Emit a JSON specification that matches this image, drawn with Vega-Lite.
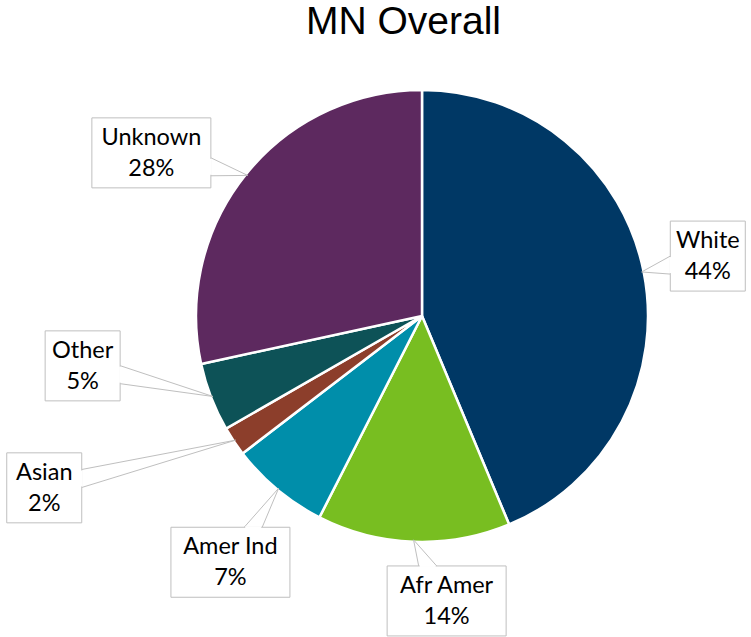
{
  "$schema": "https://vega.github.io/schema/vega-lite/v6.json",
  "width": 658,
  "height": 532,
  "autosize": {"type": "none"},
  "padding": {"left": 93, "top": 50, "right": 0, "bottom": 55},
  "background": "white",
  "title": {"text": "MN Overall", "font": "Liberation Sans", "fontSize": 39, "fontWeight": "normal", "color": "#000000", "anchor": "middle", "frame": "group", "dx": -18.5, "offset": -23, "baseline": "alphabetic"},
  "config": {"view": {"stroke": null}},
  "data": {"values": [
    {"race": "White", "pct": 43.7, "order": 1},
    {"race": "Afr Amer", "pct": 13.8, "order": 2},
    {"race": "Amer Ind", "pct": 7.1, "order": 3},
    {"race": "Asian", "pct": 2.1, "order": 4},
    {"race": "Other", "pct": 4.9, "order": 5},
    {"race": "Unknown", "pct": 28.4, "order": 6}
  ]},
  "transform": [
    {"window": [{"op": "sum", "field": "pct", "as": "cum"}], "sort": [{"field": "order"}], "frame": [null, 0]},
    {"calculate": "(datum.cum - datum.pct / 2) * 2 * PI / 100", "as": "mid"},
    {"calculate": "datum.race === 'White' ? -0.5 : datum.race === 'Afr Amer' ? -7.1 : datum.race === 'Amer Ind' ? -1.9 : datum.race === 'Asian' ? 9.2 : datum.race === 'Other' ? 12.7 : -7.8", "as": "nudge"},
    {"calculate": "datum.race === 'White' ? 292 : datum.race === 'Afr Amer' ? 286 : datum.race === 'Amer Ind' ? 312 : datum.race === 'Asian' ? 415 : datum.race === 'Other' ? 343 : 316", "as": "lr"},
    {"calculate": "datum.mid + datum.nudge * PI / 180", "as": "la"},
    {"calculate": "datum.lr * sin(datum.la)", "as": "lx"},
    {"calculate": "datum.lr * cos(datum.la)", "as": "ly"},
    {"calculate": "224 * sin(datum.mid)", "as": "tx"},
    {"calculate": "224 * cos(datum.mid)", "as": "ty"},
    {"calculate": "datum.race + '\\n' + format(datum.pct, '.0f') + '%'", "as": "lbl"},
    {"calculate": "(11 * length(replace(datum.race, regexp('[mwU]', 'g'), 'xx')) + 20) / 2", "as": "hw"},
    {"calculate": "35", "as": "hh"},
    {"calculate": "datum.lx - datum.hw", "as": "bx1"},
    {"calculate": "datum.lx + datum.hw", "as": "bx2"},
    {"calculate": "datum.ly - datum.hh", "as": "by1"},
    {"calculate": "datum.ly + datum.hh", "as": "by2"},
    {"calculate": "sqrt((datum.tx - datum.lx) * (datum.tx - datum.lx) + (datum.ty - datum.ly) * (datum.ty - datum.ly))", "as": "dd"},
    {"calculate": "(datum.tx - datum.lx) / datum.dd", "as": "ux"},
    {"calculate": "(datum.ty - datum.ly) / datum.dd", "as": "uy"},
    {"calculate": "abs(datum.ux) > 0.000001 ? datum.hw / abs(datum.ux) : 1e9", "as": "sv"},
    {"calculate": "abs(datum.uy) > 0.000001 ? datum.hh / abs(datum.uy) : 1e9", "as": "sh"},
    {"calculate": "datum.sv < datum.sh", "as": "vert"},
    {"calculate": "min(datum.sv, datum.sh)", "as": "de"},
    {"calculate": "datum.lx + datum.ux * datum.de", "as": "ex"},
    {"calculate": "datum.ly + datum.uy * datum.de", "as": "ey"},
    {"calculate": "datum.vert ? datum.ex : datum.ex - 9", "as": "a1x"},
    {"calculate": "datum.vert ? datum.ey - 9 : datum.ey", "as": "a1y"},
    {"calculate": "datum.vert ? datum.ex : datum.ex + 9", "as": "a2x"},
    {"calculate": "datum.vert ? datum.ey + 9 : datum.ey", "as": "a2y"},
    {"calculate": "datum.vert ? datum.ex : datum.ex - 8", "as": "b1x"},
    {"calculate": "datum.vert ? datum.ey - 8 : datum.ey", "as": "b1y"},
    {"calculate": "datum.vert ? datum.ex : datum.ex + 8", "as": "b2x"},
    {"calculate": "datum.vert ? datum.ey + 8 : datum.ey", "as": "b2y"}
  ],
  "layer": [
    {
      "mark": {"type": "arc", "radius": 226, "stroke": "white", "strokeWidth": 2.5},
      "encoding": {
        "theta": {"field": "pct", "type": "quantitative", "stack": true},
        "order": {"field": "order", "type": "quantitative", "sort": "ascending"},
        "color": {"field": "race", "type": "nominal", "legend": null,
          "scale": {"domain": ["White", "Afr Amer", "Amer Ind", "Asian", "Other", "Unknown"],
                    "range": ["#003865", "#78BE21", "#008EAA", "#8C3E2B", "#0D5257", "#5D295F"]}}
      }
    },
    {
      "mark": {"type": "rule", "stroke": "#BFBFBF", "strokeWidth": 1},
      "encoding": {
        "x": {"field": "tx", "type": "quantitative", "scale": {"domain": [-329, 329], "nice": false, "zero": false}, "axis": null},
        "y": {"field": "ty", "type": "quantitative", "scale": {"domain": [-266, 266], "nice": false, "zero": false}, "axis": null},
        "x2": {"field": "a1x"},
        "y2": {"field": "a1y"}
      }
    },
    {
      "mark": {"type": "rule", "stroke": "#BFBFBF", "strokeWidth": 1},
      "encoding": {
        "x": {"field": "tx", "type": "quantitative", "scale": {"domain": [-329, 329], "nice": false, "zero": false}, "axis": null},
        "y": {"field": "ty", "type": "quantitative", "scale": {"domain": [-266, 266], "nice": false, "zero": false}, "axis": null},
        "x2": {"field": "a2x"},
        "y2": {"field": "a2y"}
      }
    },
    {
      "mark": {"type": "rect", "fill": "white", "stroke": "#BFBFBF", "strokeWidth": 1},
      "encoding": {
        "x": {"field": "bx1", "type": "quantitative", "scale": {"domain": [-329, 329], "nice": false, "zero": false}, "axis": null},
        "x2": {"field": "bx2"},
        "y": {"field": "by1", "type": "quantitative", "scale": {"domain": [-266, 266], "nice": false, "zero": false}, "axis": null},
        "y2": {"field": "by2"}
      }
    },
    {
      "mark": {"type": "rule", "stroke": "white", "strokeWidth": 2},
      "encoding": {
        "x": {"field": "b1x", "type": "quantitative", "scale": {"domain": [-329, 329], "nice": false, "zero": false}, "axis": null},
        "y": {"field": "b1y", "type": "quantitative", "scale": {"domain": [-266, 266], "nice": false, "zero": false}, "axis": null},
        "x2": {"field": "b2x"},
        "y2": {"field": "b2y"}
      }
    },
    {
      "mark": {"type": "text", "font": "Lato", "fontSize": 23.5, "lineHeight": 31, "lineBreak": "\n", "align": "center", "baseline": "middle", "dy": -15, "color": "#000000"},
      "encoding": {
        "x": {"field": "lx", "type": "quantitative", "scale": {"domain": [-329, 329], "nice": false, "zero": false}, "axis": null},
        "y": {"field": "ly", "type": "quantitative", "scale": {"domain": [-266, 266], "nice": false, "zero": false}, "axis": null},
        "text": {"field": "lbl", "type": "nominal"}
      }
    }
  ]
}
